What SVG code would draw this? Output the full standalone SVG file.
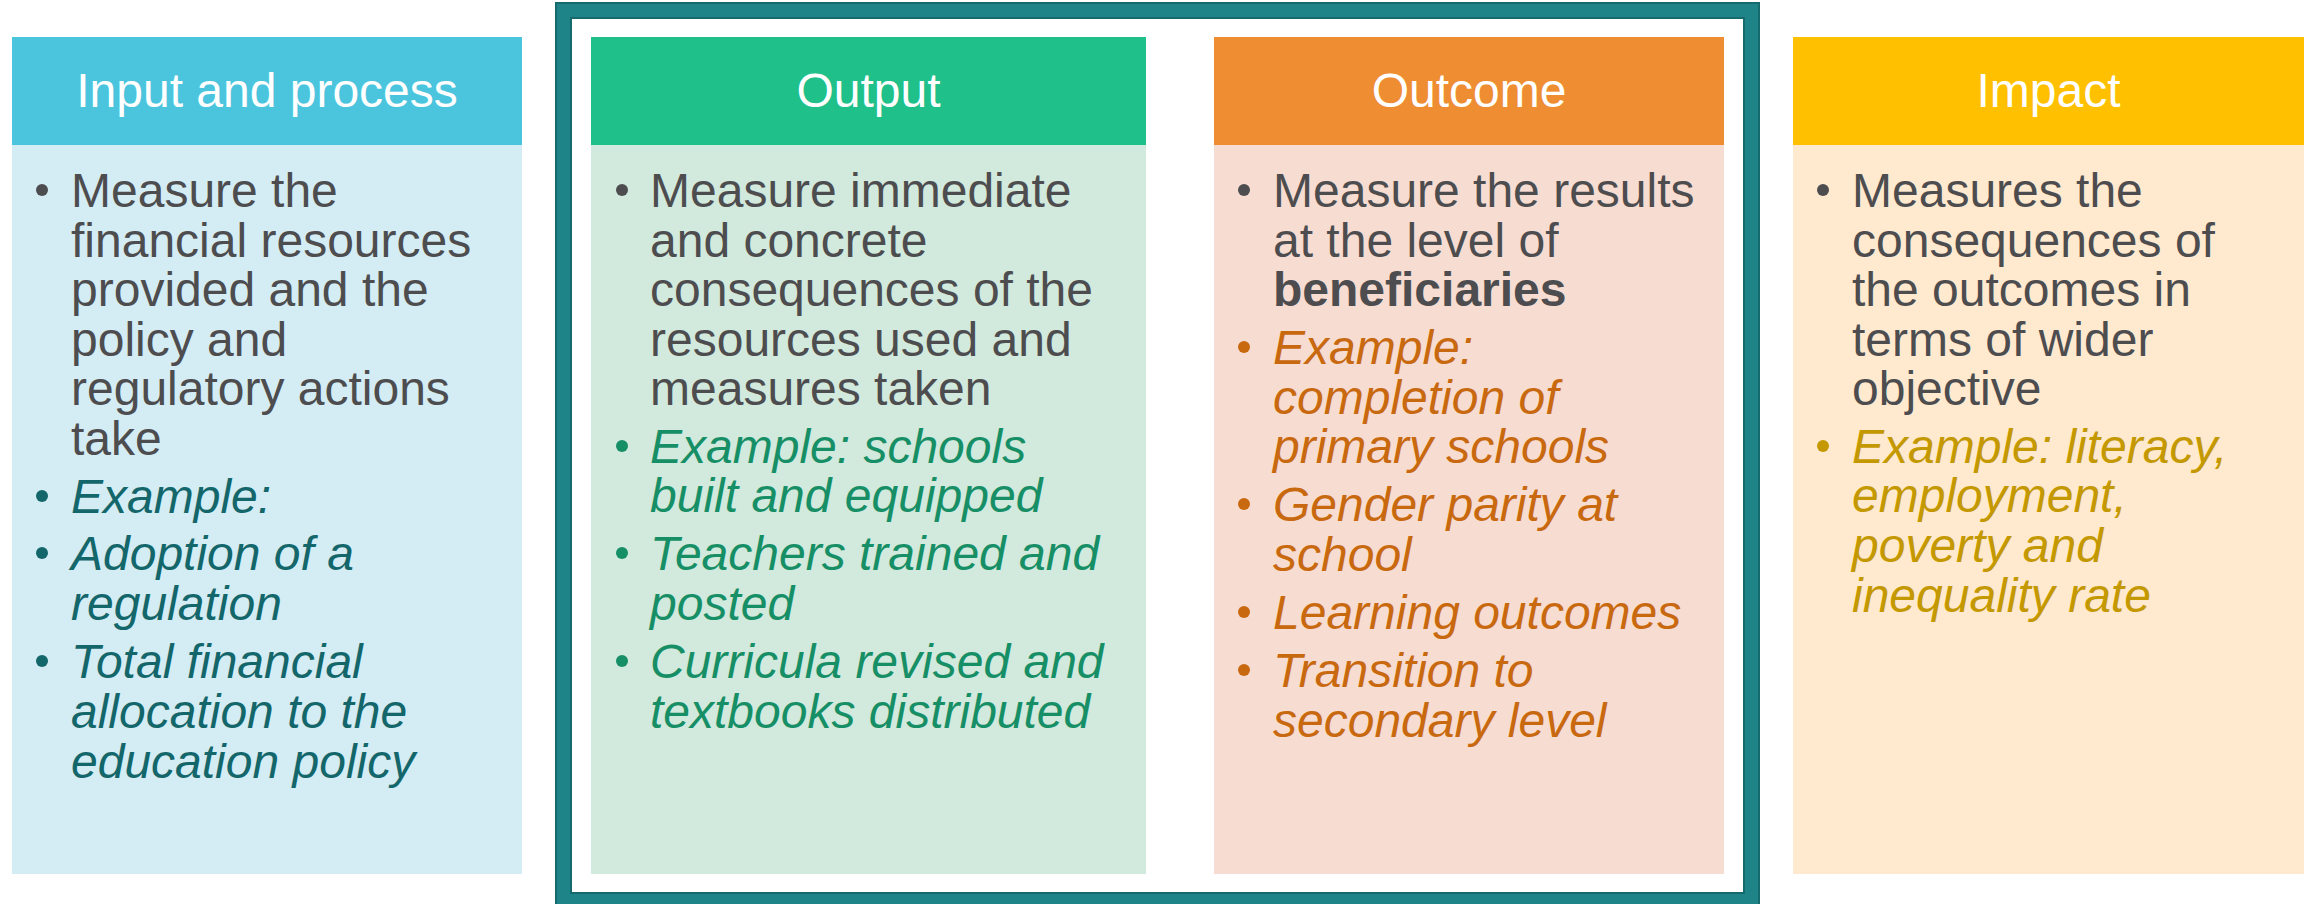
<svg xmlns="http://www.w3.org/2000/svg" width="2318" height="904" viewBox="0 0 2318 904">
<style>
text{font-family:"Liberation Sans",Arial,sans-serif;}
.hd{font-size:48px;fill:#FFFFFF;text-anchor:middle;}
.tx{font-size:48px;fill:#4D4D4F;}
.b{font-weight:bold;}
.it{font-style:italic;}
.c1{fill:#13666A;}
.c2{fill:#178F66;}
.c3{fill:#C8690F;}
.c4{fill:#C49800;}
.g{fill:#4D4D4F;}
</style>
<rect x="0" y="0" width="2318" height="904" fill="#FFFFFF"/>
<g id="frame">
<rect x="563.5" y="10.5" width="1188" height="890" fill="none" stroke="#1E8488" stroke-width="17"/>
<rect x="556" y="3" width="1203" height="905" fill="none" stroke="#156A6D" stroke-width="2"/>
<rect x="571" y="18" width="1173" height="875" fill="none" stroke="#156A6D" stroke-width="2"/>
</g>
<g id="input">
<rect x="12" y="37" width="510" height="837" fill="#D4ECF4"/>
<rect x="12" y="37" width="510" height="108" fill="#4BC5DE"/>
<text class="hd" x="267" y="107">Input and process</text>
<circle class="g" cx="42" cy="190" r="6"/>
<text class="tx" x="71" y="207">Measure the</text>
<text class="tx" x="71" y="257">financial resources</text>
<text class="tx" x="71" y="306">provided and the</text>
<text class="tx" x="71" y="356">policy and</text>
<text class="tx" x="71" y="405">regulatory actions</text>
<text class="tx" x="71" y="455">take</text>
<circle class="c1" cx="42" cy="496" r="6"/>
<text class="tx it c1" x="71" y="513">Example:</text>
<circle class="c1" cx="42" cy="553" r="6"/>
<text class="tx it c1" x="71" y="570">Adoption of a</text>
<text class="tx it c1" x="71" y="620">regulation</text>
<circle class="c1" cx="42" cy="661" r="6"/>
<text class="tx it c1" x="71" y="678">Total financial</text>
<text class="tx it c1" x="71" y="728">allocation to the</text>
<text class="tx it c1" x="71" y="778">education policy</text>
</g>
<g id="output">
<rect x="591" y="37" width="555" height="837" fill="#D2E9DD"/>
<rect x="591" y="37" width="555" height="108" fill="#20C08B"/>
<text class="hd" x="868.5" y="107">Output</text>
<circle class="g" cx="622" cy="190" r="6"/>
<text class="tx" x="650" y="207">Measure immediate</text>
<text class="tx" x="650" y="257">and concrete</text>
<text class="tx" x="650" y="306">consequences of the</text>
<text class="tx" x="650" y="356">resources used and</text>
<text class="tx" x="650" y="405">measures taken</text>
<circle class="c2" cx="622" cy="446" r="6"/>
<text class="tx it c2" x="650" y="463">Example: schools</text>
<text class="tx it c2" x="650" y="512">built and equipped</text>
<circle class="c2" cx="622" cy="553" r="6"/>
<text class="tx it c2" x="650" y="570">Teachers trained and</text>
<text class="tx it c2" x="650" y="620">posted</text>
<circle class="c2" cx="622" cy="661" r="6"/>
<text class="tx it c2" x="650" y="678">Curricula revised and</text>
<text class="tx it c2" x="650" y="728">textbooks distributed</text>
</g>
<g id="outcome">
<rect x="1214" y="37" width="510" height="837" fill="#F7DCD2"/>
<rect x="1214" y="37" width="510" height="108" fill="#EE8D31"/>
<text class="hd" x="1469" y="107">Outcome</text>
<circle class="g" cx="1244" cy="190" r="6"/>
<text class="tx" x="1273" y="207">Measure the results</text>
<text class="tx" x="1273" y="257">at the level of</text>
<text class="tx b" x="1273" y="306">beneficiaries</text>
<circle class="c3" cx="1244" cy="347" r="6"/>
<text class="tx it c3" x="1273" y="364">Example:</text>
<text class="tx it c3" x="1273" y="414">completion of</text>
<text class="tx it c3" x="1273" y="463">primary schools</text>
<circle class="c3" cx="1244" cy="504" r="6"/>
<text class="tx it c3" x="1273" y="521">Gender parity at</text>
<text class="tx it c3" x="1273" y="571">school</text>
<circle class="c3" cx="1244" cy="612" r="6"/>
<text class="tx it c3" x="1273" y="629">Learning outcomes</text>
<circle class="c3" cx="1244" cy="670" r="6"/>
<text class="tx it c3" x="1273" y="687">Transition to</text>
<text class="tx it c3" x="1273" y="737">secondary level</text>
</g>
<g id="impact">
<rect x="1793" y="37" width="511" height="837" fill="#FFE9CF"/>
<rect x="1793" y="37" width="511" height="108" fill="#FFC000"/>
<text class="hd" x="2048.5" y="107">Impact</text>
<circle class="g" cx="1823" cy="190" r="6"/>
<text class="tx" x="1852" y="207">Measures the</text>
<text class="tx" x="1852" y="257">consequences of</text>
<text class="tx" x="1852" y="306">the outcomes in</text>
<text class="tx" x="1852" y="356">terms of wider</text>
<text class="tx" x="1852" y="405">objective</text>
<circle class="c4" cx="1823" cy="446" r="6"/>
<text class="tx it c4" x="1852" y="463">Example: literacy,</text>
<text class="tx it c4" x="1852" y="512">employment,</text>
<text class="tx it c4" x="1852" y="562">poverty and</text>
<text class="tx it c4" x="1852" y="612">inequality rate</text>
</g>
</svg>
